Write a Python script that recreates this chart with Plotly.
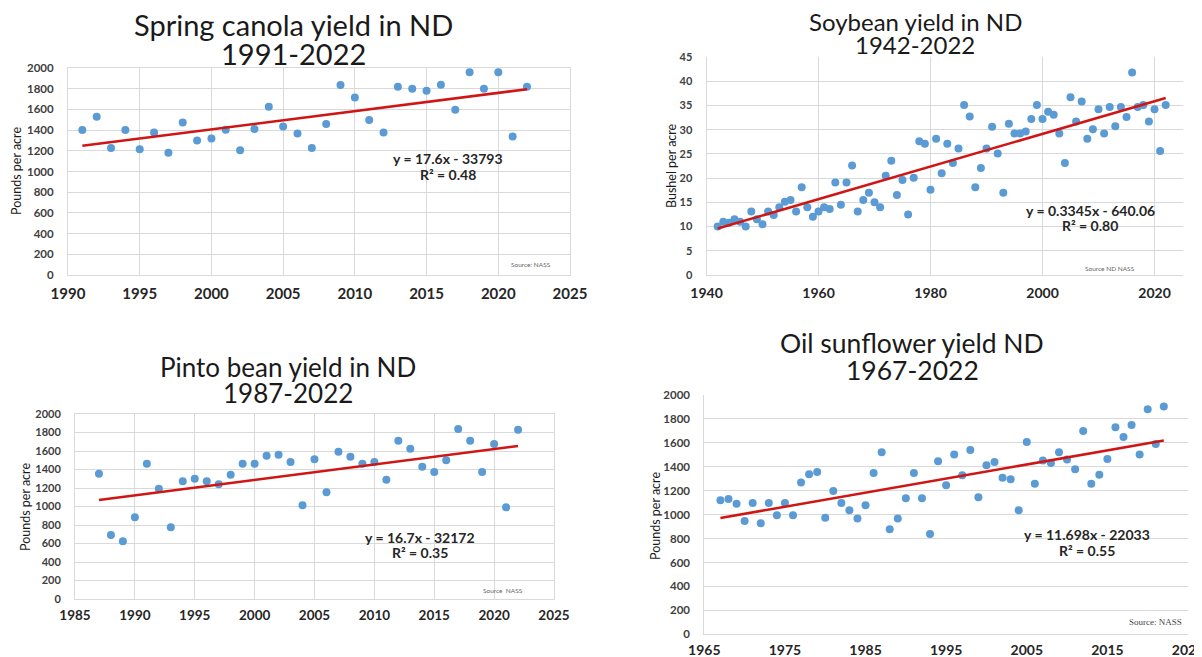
import numpy as np
import plotly.graph_objects as go

W, H = 1202, 657
PAGE_OFFSET = 8  # default body margin of the html page

# ---------------- data ----------------
canola_years = list(range(1991, 2023))
canola_yield = [1400, 1529, 1226, 1400, 1216, 1377, 1181, 1474, 1300, 1319,
                1403, 1206, 1410, 1626, 1435, 1367, 1226, 1458, 1835, 1716,
                1497, 1377, 1819, 1800, 1781, 1839, 1597, 1958, 1800, 1958,
                1339, 1819]

soy_years = list(range(1942, 2023))
soy_yield = [10.0, 11.0, 10.8, 11.5, 11.0, 10.0, 13.1, 11.5, 10.5, 13.1,
             12.4, 14.0, 15.1, 15.5, 13.1, 18.1, 14.0, 12.0, 13.1, 14.0,
             13.6, 19.1, 14.5, 19.1, 22.6, 13.1, 15.5, 17.0, 15.0, 14.0,
             20.5, 23.6, 16.5, 19.6, 12.5, 20.1, 27.6, 27.1, 17.6, 28.1,
             21.0, 27.1, 23.1, 26.1, 35.1, 32.7, 18.1, 22.1, 26.1, 30.6,
             25.1, 17.0, 31.2, 29.2, 29.2, 29.6, 32.2, 35.1, 32.2, 33.7,
             33.1, 29.2, 23.1, 36.7, 31.7, 35.8, 28.1, 30.1, 34.2, 29.2,
             34.7, 30.7, 34.7, 32.6, 41.8, 34.7, 35.1, 31.7, 34.2, 25.6,
             35.1]

pinto_years = list(range(1987, 2023))
pinto_yield = [1355, 692, 623, 883, 1463, 1193, 775, 1272, 1301, 1272,
               1240, 1344, 1463, 1463, 1550, 1560, 1481, 1013, 1510, 1153,
               1593, 1539, 1463, 1481, 1290, 1712, 1625, 1431, 1373, 1499,
               1838, 1712, 1373, 1676, 991, 1831]

sun_years = list(range(1967, 2023))
sun_yield = [1120, 1131, 1092, 947, 1098, 928, 1098, 995, 1098, 995,
             1268, 1337, 1357, 975, 1198, 1098, 1036, 967, 1078, 1348,
             1521, 878, 967, 1137, 1348, 1137, 838, 1446, 1245, 1502,
             1329, 1541, 1145, 1412, 1440, 1309, 1295, 1036, 1607, 1259,
             1452, 1432, 1521, 1460, 1379, 1699, 1259, 1334, 1465, 1730,
             1649, 1750, 1502, 1881, 1591, 1903]

title_line1 = ["Spring canola yield in ND", "Soybean yield in ND",
               "Pinto bean yield in ND", "Oil sunflower yield ND"]
title_line2 = ["1991-2022", "1942-2022", "1987-2022", "1967-2022"]
y_titles = ["Pounds per acre", "Bushel per acre", "Pounds per acre", "Pounds per acre"]
eq_line1 = ["y = 17.6x - 33793", "y = 0.3345x - 640.06",
            "y = 16.7x - 32172", "y = 11.698x - 22033"]
eq_line2 = ["R² = 0.48", "R² = 0.80", "R² = 0.35", "R² = 0.55"]
sources = ["Source: NASS", "Source ND NASS", "Source  NASS", "Source: NASS"]

# ---------------- layout helpers ----------------
def fx(p):
    return (p - PAGE_OFFSET) / W

def fy(p):
    return 1 - (p - PAGE_OFFSET) / H

DOT = "#5B9BD5"
RED = "#D01515"
GRID = "#D9D9D9"

fig = go.Figure()

series = [(canola_years, canola_yield), (soy_years, soy_yield),
          (pinto_years, pinto_yield), (sun_years, sun_yield)]

for i, (xs, ys) in enumerate(series):
    ax = "" if i == 0 else str(i + 1)
    fig.add_trace(go.Scatter(x=xs, y=ys, mode="markers",
                             marker=dict(color=DOT, size=8),
                             xaxis="x" + ax, yaxis="y" + ax, showlegend=False,
                             hoverinfo="x+y"))
    k, b = np.polyfit(xs, ys, 1)
    tx = [xs[0], xs[-1]]
    fig.add_trace(go.Scatter(x=tx, y=[k * t + b for t in tx], mode="lines",
                             line=dict(color=RED, width=2.6),
                             xaxis="x" + ax, yaxis="y" + ax, showlegend=False,
                             hoverinfo="skip"))

# plot area boxes in page pixels: (left, right, top, bottom)
boxes = [(68, 570, 68, 275), (706.5, 1182.5, 57, 275),
         (75, 554, 414, 599), (704.3, 1188, 395, 634.3)]
xranges = [[1990, 2025], [1940, 2025], [1985, 2025], [1965, 2025]]
xdticks = [5, 20, 5, 10]
yranges = [[0, 2000], [0, 45], [0, 2000], [0, 2000]]
ydticks = [200, 5, 200, 200]
xgrid = [True, True, True, False]
mirror = [True, False, True, False]
xtick_size = [15, 14, 13.5, 14]
xtick_standoff = [5, 5, 4, 3]
ytick_size = [11.5, 11, 11, 11.5]

layout = dict(width=W, height=H, margin=dict(l=0, r=0, t=0, b=0, autoexpand=False),
              paper_bgcolor="white", plot_bgcolor="white", showlegend=False)

for i in range(4):
    ax = "" if i == 0 else str(i + 1)
    l, r, t, b = boxes[i]
    layout["xaxis" + ax] = dict(domain=[fx(l), fx(r)], range=xranges[i],
                                anchor="y" + ax, tick0=xranges[i][0],
                                dtick=xdticks[i], showgrid=xgrid[i],
                                gridcolor=GRID, gridwidth=1,
                                showline=True, linecolor=GRID, linewidth=1,
                                mirror=mirror[i], zeroline=False, ticks="",
                                tickfont=dict(family="Lato", size=xtick_size[i],
                                              color="#262626", weight="bold"),
                                ticklabelstandoff=xtick_standoff[i],
                                automargin=False, fixedrange=True)
    layout["yaxis" + ax] = dict(domain=[fy(b), fy(t)], range=yranges[i],
                                anchor="x" + ax, dtick=ydticks[i],
                                showgrid=True, gridcolor=GRID, gridwidth=1,
                                showline=True, linecolor=GRID, linewidth=1,
                                mirror=mirror[i], zeroline=False, ticks="",
                                tickfont=dict(family="Lato", size=ytick_size[i],
                                              color="#404040", weight="bold"),
                                ticklabelstandoff=11,
                                automargin=False, fixedrange=True)

fig.update_layout(**layout)

def note(cx, cy, txt, font, angle=0):
    fig.add_annotation(x=fx(cx), y=fy(cy), xref="paper", yref="paper",
                       text=txt, showarrow=False, xanchor="center",
                       yanchor="middle", textangle=angle, font=font,
                       borderpad=0)

# titles (two lines each)
title_pos = [(293, 24, 53, 29), (915, 21, 44, 24),
             (288, 367, 393, 26), (912, 343, 370, 26.5)]
for (cx, y1, y2, sz), t1, t2 in zip(title_pos, title_line1, title_line2):
    f = dict(family="Lato", size=sz, color="#1a1a1a")
    note(cx, y1, t1, f)
    note(cx, y2, t2, f)

# y-axis titles
ytitle_pos = [(17, 171), (671, 166), (25, 507), (655, 516)]
for (cx, cy), txt in zip(ytitle_pos, y_titles):
    note(cx, cy, txt, dict(family="Lato", size=12.5, color="#1a1a1a"), -90)

# trend-line equations
eq_pos = [(448, 159, 174), (1090, 210, 225), (420, 537, 552), (1087, 534, 550)]
for (cx, y1, y2), t1, t2 in zip(eq_pos, eq_line1, eq_line2):
    f = dict(family="Lato", size=14, color="#262626", weight="bold")
    note(cx, y1, t1, f)
    note(cx, y2, t2, f)

# sources
src_pos = [(531, 264), (1110, 268), (503, 590), (1155, 622)]
src_font = [dict(family="Lato", size=6.5, color="#666666"),
            dict(family="Lato", size=6.5, color="#666666"),
            dict(family="Lato", size=6.5, color="#666666"),
            dict(family="Liberation Serif", size=9, color="#444444")]
for (cx, cy), txt, f in zip(src_pos, sources, src_font):
    note(cx, cy, txt, f)

fig.write_html("out.html")
